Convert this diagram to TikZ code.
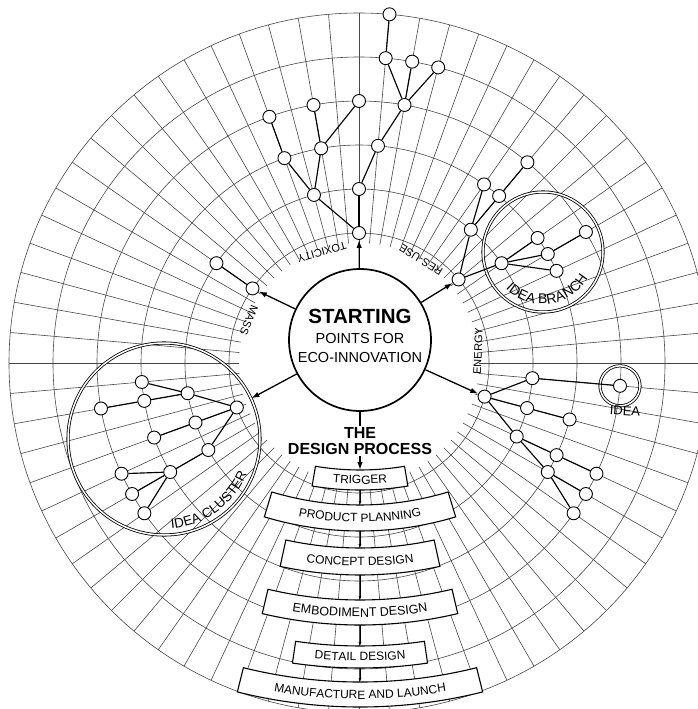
\documentclass[tikz,border=0pt]{standalone}
\usepackage{fontspec}
\setmainfont{Liberation Sans}
\usetikzlibrary{arrows.meta,decorations.text}

\begin{document}
\begin{tikzpicture}[x=1pt,y=1pt,
	>={Latex[length=8pt,width=5.5pt]},
	gridline/.style={draw=black!72, line width=0.6pt},
	idea/.style={shape=circle, draw=black, fill=white, line width=0.9pt, minimum size=13pt, inner sep=0pt},
	link/.style={line width=1.15pt},
	push/.style={->, line width=1.3pt},
	flow/.style={-{Latex[length=4pt,width=3pt]}, line width=0.9pt},
	zone/.style={shape=circle, draw=black, double, double distance=1.5pt, line width=0.8pt, inner sep=0pt},
	procbox/.style={draw=black, fill=white, line width=1.1pt},
	bent/.style={decorate, decoration={text along path, text align=center}},
	ringlabel/.style={font=\fontsize{11}{11}\selectfont, inner sep=0pt}]

	\useasboundingbox (0,0) rectangle (697,-709);
	\coordinate (C) at (359,-363);
	\coordinate (B) at (360,-200);

	\foreach \a in {0,5,...,355}
		\draw[gridline, shift={(C)}] (\a:120) -- (\a:350);
	\foreach \r in {130,174,218,262,306,350}
		\draw[gridline] (C) circle (\r);

	\node[zone, minimum size=192pt] (cluster) at (164,-439) {};
	\node[zone, minimum size=120pt] (branch) at (543,-252) {};

	\begin{scope}[shift={(cluster.center)}]
		\path[bent, decoration={text={|\fontsize{13.5}{13.5}\selectfont|IDEA CLUSTER}}] (266:90) arc[start angle=266, end angle=346, radius=90];
	\end{scope}
	\begin{scope}[shift={(branch.center)}]
		\path[bent, decoration={text={|\fontsize{14}{14}\selectfont|IDEA BRANCH}}] (210:52) arc[start angle=210, end angle=344, radius=52];
	\end{scope}

	\begin{scope}[shift={(B)}]
		\draw[procbox] (260.5:270) arc[start angle=260.5, end angle=279.5, radius=270] -- (279.5:290) arc[start angle=279.5, end angle=260.5, radius=290] -- cycle;
		\path[bent, decoration={text={|\fontsize{12}{12}\selectfont|TRIGGER}}] (260.5:284) arc[start angle=260.5, end angle=279.5, radius=284];
		\coordinate (trig-t) at (270:270);
		\coordinate (trig-b) at (270:290);

		\draw[procbox] (253.2:305) arc[start angle=253.2, end angle=286.8, radius=305] -- (286.8:331) arc[start angle=286.8, end angle=253.2, radius=331] -- cycle;
		\path[bent, decoration={text={|\fontsize{12}{12}\selectfont|PRODUCT PLANNING}}] (253.2:322) arc[start angle=253.2, end angle=286.8, radius=322];
		\coordinate (plan-t) at (270:305);
		\coordinate (plan-b) at (270:331);

		\draw[procbox] (257.7:348) arc[start angle=257.7, end angle=282.3, radius=348] -- (282.3:375) arc[start angle=282.3, end angle=257.7, radius=375] -- cycle;
		\path[bent, decoration={text={|\fontsize{12}{12}\selectfont|CONCEPT DESIGN}}] (257.7:366) arc[start angle=257.7, end angle=282.3, radius=366];
		\coordinate (conc-t) at (270:348);
		\coordinate (conc-b) at (270:375);

		\draw[procbox] (256.7:400) arc[start angle=256.7, end angle=283.3, radius=400] -- (283.3:425) arc[start angle=283.3, end angle=256.7, radius=425] -- cycle;
		\path[bent, decoration={text={|\fontsize{12.5}{12.5}\selectfont|EMBODIMENT DESIGN}}] (256.7:417) arc[start angle=256.7, end angle=283.3, radius=417];
		\coordinate (embo-t) at (270:400);
		\coordinate (embo-b) at (270:425);

		\draw[procbox] (261.7:446) arc[start angle=261.7, end angle=278.3, radius=446] -- (278.3:468) arc[start angle=278.3, end angle=261.7, radius=468] -- cycle;
		\path[bent, decoration={text={|\fontsize{12}{12}\selectfont|DETAIL DESIGN}}] (261.7:461) arc[start angle=261.7, end angle=278.3, radius=461];
		\coordinate (deta-t) at (270:446);
		\coordinate (deta-b) at (270:468);

		\draw[procbox] (256:482) arc[start angle=256, end angle=284, radius=482] -- (284:507) arc[start angle=284, end angle=256, radius=507] -- cycle;
		\path[bent, decoration={text={|\fontsize{12}{12}\selectfont|MANUFACTURE AND LAUNCH}}] (256:499) arc[start angle=256, end angle=284, radius=499];
		\coordinate (manu-t) at (270:482);
	\end{scope}

	\begin{scope}[shift={(C)}]
		\node[idea] (t0) at (90:130) {};
		\node[idea] (t1) at (90:174) {};
		\node[idea] (t2) at (85:218) {};
		\node[idea] (t3) at (80:262) {};
		\node[idea] (t4) at (85:306) {};
		\node[idea] (t5) at (85:350) {};
		\node[idea] (t6) at (80:306) {};
		\node[idea] (t7) at (75:306) {};
		\node[idea] (l1) at (105:174) {};
		\node[idea] (l2) at (110:218) {};
		\node[idea] (l3) at (110:262) {};
		\node[idea] (l4) at (100:218) {};
		\node[idea] (l5) at (100:262) {};
		\node[idea] (l6) at (90:262) {};

		\node[idea] (m0) at (145:130) {};
		\node[idea] (m1) at (145:174) {};

		\node[idea] (r0) at (40:130) {};
		\node[idea] (r1) at (50:174) {};
		\node[idea] (r2) at (55:218) {};
		\node[idea] (r3) at (50:218) {};
		\node[idea] (r4) at (50:262) {};
		\node[idea] (r5) at (35:174) {};
		\node[idea] (r6) at (35:218) {};
		\node[idea] (r7) at (30:218) {};
		\node[idea] (r8) at (30:262) {};
		\node[idea] (r9) at (25:218) {};

		\node[idea] (e0) at (-15:130) {};
		\node[idea] (e1) at (-5:174) {};
		\node[idea] (e2) at (-15:174) {};
		\node[idea] (e3) at (-15:218) {};
		\node[idea] (e4) at (-25:174) {};
		\node[idea] (e5) at (-25:218) {};
		\node[idea] (e6) at (-25:262) {};
		\node[idea] (e7) at (-30:218) {};
		\node[idea] (e8) at (-30:262) {};
		\node[idea] (e9) at (-35:262) {};
		\node[idea] (spark) at (-5:262) {};

		\node[idea] (c3) at (200:130) {};
		\node[idea] (c2) at (190:174) {};
		\node[idea] (c1) at (185:218) {};
		\node[idea] (c4) at (190:218) {};
		\node[idea] (c5) at (190:262) {};
		\node[idea] (c6) at (200:174) {};
		\node[idea] (c7) at (200:218) {};
		\node[idea] (c8) at (210:174) {};
		\node[idea] (c9) at (210:218) {};
		\node[idea] (c10) at (205:262) {};
		\node[idea] (c11) at (210:262) {};
		\node[idea] (c12) at (215:262) {};
	\end{scope}

	\node[zone, minimum size=40pt] (sparkring) at (spark) {};
	\node[font=\fontsize{13}{13}\selectfont, inner sep=0pt, rotate=-4] (sparklabel) at (625,-411) {IDEA};

	\node[shape=circle, draw=black, line width=1.7pt, minimum size=142pt, inner sep=0pt] (start) at (360,-340) {};
	\node[align=center, font=\fontsize{14.5}{19.5}\selectfont] (starttext) at (360,-336) {{\fontsize{20.5}{22}\selectfont\bfseries STARTING}\\POINTS FOR\\ECO-INNOVATION};
	\node[align=center, font=\fontsize{16}{16}\selectfont\bfseries, inner sep=1pt] (proc) at (360,-441) {THE\\DESIGN PROCESS};

	\node[ringlabel, rotate=196] (tox) at (322,-252) {TOXICITY};
	\node[ringlabel, rotate=148] (res) at (421,-260) {RES-USE};
	\node[ringlabel, rotate=248] (mass) at (249,-320) {MASS};
	\node[ringlabel, rotate=88] (energy) at (478,-351) {ENERGY};

	\path[push] (start) edge (t0);
	\path[push] (start) edge (r0);
	\path[push] (start) edge (e0);
	\path[push] (start) edge (m0);
	\path[push] (start) edge (cluster.25);
	\path[line width=1.3pt] (start) edge (proc);
	\path[push] (proc) edge (trig-t);

	\path[flow] (trig-b) edge (plan-t);
	\path[flow] (plan-b) edge (conc-t);
	\path[flow] (conc-b) edge (embo-t);
	\path[flow] (embo-b) edge (deta-t);
	\path[flow] (deta-b) edge (manu-t);

	\path[link] (t0) edge (t1);
	\path[link] (t1) edge (t2);
	\path[link] (t2) edge (t3);
	\path[link] (t3) edge (t4);
	\path[link] (t4) edge (t5);
	\path[link] (t3) edge (t6);
	\path[link] (t3) edge (t7);
	\path[link] (t0) edge (l1);
	\path[link] (l1) edge (l2);
	\path[link] (l2) edge (l3);
	\path[link] (l1) edge (l4);
	\path[link] (l4) edge (l5);
	\path[link] (l4) edge (l6);

	\path[link] (m0) edge (m1);

	\path[link] (r0) edge (r1);
	\path[link] (r1) edge (r2);
	\path[link] (r1) edge (r3);
	\path[link] (r3) edge (r4);
	\path[link] (r0) edge (r5);
	\path[link] (r5) edge (r6);
	\path[link] (r5) edge (r7);
	\path[link] (r7) edge (r8);
	\path[link] (r5) edge (r9);

	\path[link] (e0) edge (e1);
	\path[link] (e1) edge (spark);
	\path[link] (e0) edge (e2);
	\path[link] (e2) edge (e3);
	\path[link] (e0) edge (e4);
	\path[link] (e4) edge (e5);
	\path[link] (e5) edge (e6);
	\path[link] (e4) edge (e7);
	\path[link] (e7) edge (e8);
	\path[link] (e7) edge (e9);

	\path[link] (c3) edge (c2);
	\path[link] (c2) edge (c1);
	\path[link] (c2) edge (c4);
	\path[link] (c4) edge (c5);
	\path[link] (c3) edge (c6);
	\path[link] (c6) edge (c7);
	\path[link] (c3) edge (c8);
	\path[link] (c8) edge (c9);
	\path[link] (c9) edge (c10);
	\path[link] (c9) edge (c11);
	\path[link] (c9) edge (c12);

\end{tikzpicture}
\end{document}
